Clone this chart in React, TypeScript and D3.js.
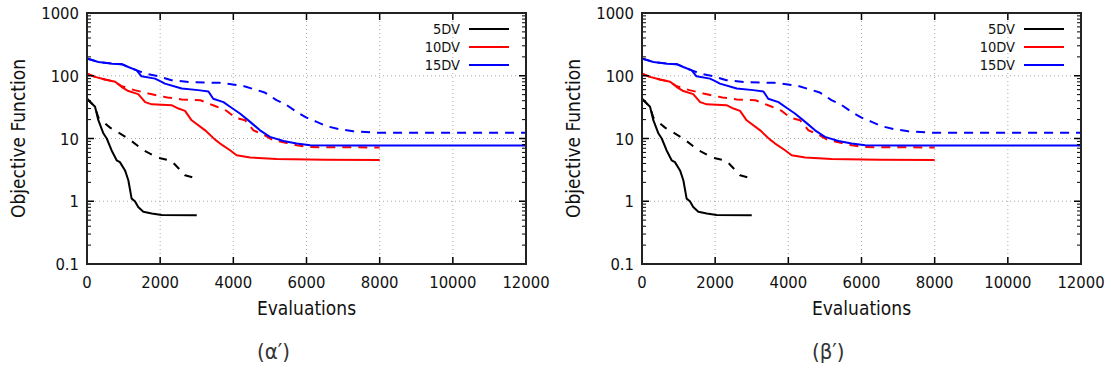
import React from 'react';
import * as d3 from 'd3';

// x ticks / y ticks
const xTicks = [0, 2000, 4000, 6000, 8000, 10000, 12000];
const yTicks = [0.1, 1, 10, 100, 1000];
const yTickLabels = ['0.1', '1', '10', '100', '1000'];

const seriesNames = ['5DV', '10DV', '15DV'];
const seriesColors = ['#000000', '#ff0000', '#0000ff'];

// 5DV
const evals5Solid = [0, 220, 310, 450, 540, 670, 810, 900, 1040, 1130, 1220, 1310, 1400, 1540, 1770, 2040, 3000];
const obj5Solid = [43, 32, 19.6, 12, 10, 6.5, 4.5, 4.2, 3.1, 2.16, 1.1, 1.0, 0.81, 0.68, 0.64, 0.605, 0.6];
const evals5Dash = [0, 220, 310, 630, 1130, 1540, 1950, 2310, 2680, 3000];
const obj5Dash = [43, 32, 21.5, 14.9, 10, 6.5, 4.9, 4.4, 2.6, 2.3];

// 10DV
const evals10Solid = [0, 220, 490, 770, 950, 1130, 1400, 1590, 1770, 2310, 2500, 2680, 2860, 3230, 3500, 3640, 3910, 4090, 4460, 5180, 6500, 8000];
const obj10Solid = [108, 96, 87, 80, 66, 57, 51, 38, 35, 34, 30, 27.5, 19.5, 13.5, 9.6, 8.3, 6.5, 5.4, 5.0, 4.7, 4.6, 4.55];
const evals10Dash = [0, 220, 490, 770, 950, 1300, 1680, 2200, 2590, 3100, 3500, 3820, 4050, 4320, 4550, 4820, 5090, 5460, 5730, 6100, 8000];
const obj10Dash = [108, 96, 87, 80, 68, 59, 52, 45, 42, 40.7, 33, 27.5, 21.5, 19.6, 13.5, 11.6, 9.4, 8.5, 7.8, 7.3, 7.2];

// 15DV
const evals15Solid = [0, 310, 670, 950, 1130, 1360, 1490, 1860, 2040, 2130, 2590, 3040, 3320, 3450, 3730, 3910, 4180, 4460, 4730, 5000, 5370, 5730, 6100, 7000, 12000];
const obj15Solid = [188, 166, 156, 153, 138, 122, 98, 90, 80, 75, 62.5, 59, 56, 43, 38, 32, 25, 18.4, 13.5, 10.6, 9.1, 8.3, 7.8, 7.7, 7.7];
const evals15Dash = [0, 310, 670, 950, 1130, 1360, 1600, 1950, 2310, 2800, 3640, 4270, 4860, 5180, 5460, 5730, 6000, 6280, 6550, 6920, 7280, 8000, 12000];
const obj15Dash = [188, 166, 156, 153, 138, 122, 108, 98, 85, 79, 77, 69, 54, 41, 34, 26.5, 21.5, 18.4, 15.7, 14, 13, 12.3, 12.3];

const captions = ['(α′)', '(β′)'];

const font = "'DejaVu Sans Condensed', 'DejaVu Sans', Verdana, sans-serif";

const margin = { left: 87, top: 13 };
const plotW = 439;
const plotH = 251;

function Panel({ dx, caption, clipW, id }: { dx: number; caption: string; clipW: number; id: string }) {
  const x = d3.scaleLinear().domain([0, 12000]).range([0, plotW]);
  const y = d3.scaleLog().domain([0.1, 1000]).range([plotH, 0]);
  const line = d3.line<[number, number]>().x((d) => x(d[0])).y((d) => y(d[1]));
  const zip = (a: number[], b: number[]) => a.map((v, i) => [v, b[i]] as [number, number]);

  const series = [
    { xs: evals5Solid, ys: obj5Solid, c: 0, dash: null },
    { xs: evals5Dash, ys: obj5Dash, c: 0, dash: '8,8' },
    { xs: evals10Solid, ys: obj10Solid, c: 1, dash: null },
    { xs: evals10Dash, ys: obj10Dash, c: 1, dash: '9,7' },
    { xs: evals15Solid, ys: obj15Solid, c: 2, dash: null },
    { xs: evals15Dash, ys: obj15Dash, c: 2, dash: '9,7' },
  ];

  const minor: number[] = [];
  for (let e = -1; e < 3; e++) for (let m = 2; m < 10; m++) minor.push(m * Math.pow(10, e));

  const txt = { fontFamily: font, fontStretch: 'condensed' as const };

  return (
    <g transform={`translate(${dx},0)`}>
      <defs>
        <clipPath id={id}>
          <rect x={0} y={0} width={clipW} height={372} />
        </clipPath>
      </defs>
      <g clipPath={`url(#${id})`}>
        <g transform={`translate(${margin.left},${margin.top})`}>
          {/* grid */}
          {xTicks.slice(1, -1).map((t) => (
            <line key={'gx' + t} x1={x(t)} x2={x(t)} y1={0} y2={plotH} stroke="#aaa" strokeWidth={1} strokeDasharray="1,3" />
          ))}
          {yTicks.slice(1, -1).map((t) => (
            <line key={'gy' + t} x1={0} x2={plotW} y1={y(t)} y2={y(t)} stroke="#aaa" strokeWidth={1} strokeDasharray="1,3" />
          ))}
          {/* series */}
          {series.map((s, i) => (
            <path key={i} d={line(zip(s.xs, s.ys)) || ''} fill="none" stroke={seriesColors[s.c]} strokeWidth={2}
              strokeDasharray={s.dash || undefined} strokeLinejoin="round" />
          ))}
          {/* ticks */}
          {xTicks.map((t) => (
            <g key={'tx' + t}>
              <line x1={x(t)} x2={x(t)} y1={plotH} y2={plotH - 7} stroke="#000" strokeWidth={1.5} />
              <line x1={x(t)} x2={x(t)} y1={0} y2={7} stroke="#000" strokeWidth={1.5} />
              <text x={x(t)} y={plotH + 24} textAnchor="middle" fontSize={16.5} style={txt} fill="#111">{t}</text>
            </g>
          ))}
          {yTicks.map((t, i) => (
            <g key={'ty' + t}>
              <line x1={0} x2={7} y1={y(t)} y2={y(t)} stroke="#000" strokeWidth={1.5} />
              <line x1={plotW} x2={plotW - 7} y1={y(t)} y2={y(t)} stroke="#000" strokeWidth={1.5} />
              <text x={-8} y={y(t) + 6} textAnchor="end" fontSize={16.5} style={txt} fill="#111">{yTickLabels[i]}</text>
            </g>
          ))}
          {minor.map((t) => (
            <g key={'mn' + t}>
              <line x1={0} x2={4} y1={y(t)} y2={y(t)} stroke="#000" strokeWidth={1} />
              <line x1={plotW} x2={plotW - 4} y1={y(t)} y2={y(t)} stroke="#000" strokeWidth={1} />
            </g>
          ))}
          <rect x={0} y={0} width={plotW} height={plotH} fill="none" stroke="#222" strokeWidth={2} />
          {/* legend */}
          {seriesNames.map((n, i) => (
            <g key={n} transform={`translate(0,${16 + i * 18})`}>
              <text x={plotW - 66} y={5} textAnchor="end" fontSize={14.5} style={txt} fill="#111">{n}</text>
              <line x1={plotW - 57} x2={plotW - 17} y1={0} y2={0} stroke={seriesColors[i]} strokeWidth={2} />
            </g>
          ))}
          <text x={plotW / 2} y={plotH + 51} textAnchor="middle" fontSize={19} style={txt} fill="#111">Evaluations</text>
          <text transform={`translate(${-62},${plotH / 2}) rotate(-90)`} textAnchor="middle" fontSize={19} style={txt} fill="#111">
            Objective Function
          </text>
          <text x={170} y={plotH + 95} textAnchor="start" fontSize={22} style={txt} fill="#333">{caption}</text>
        </g>
      </g>
    </g>
  );
}

export default function App() {
  return (
    <svg width={1111} height={372} viewBox="0 0 1111 372" style={{ position: 'absolute', left: 0, top: 0, background: '#fff' }}>
      <rect width={1111} height={372} fill="#fff" />
      <Panel dx={0} caption={captions[0]} clipW={550} id="clipA" />
      <Panel dx={555} caption={captions[1]} clipW={556} id="clipB" />
    </svg>
  );
}
